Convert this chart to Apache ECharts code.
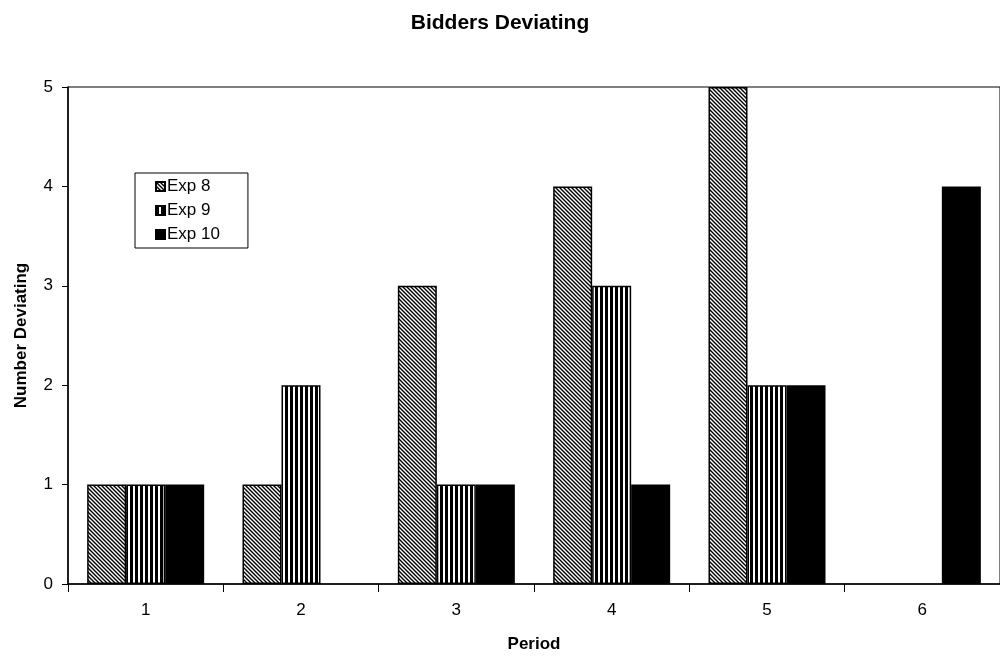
<!DOCTYPE html>
<html>
<head>
<meta charset="utf-8">
<script src="https://cdn.jsdelivr.net/npm/echarts@6/dist/echarts.min.js"></script>
<style>
  html, body { margin: 0; padding: 0; background: #fff; }
  #chart { width: 1000px; height: 658px; }
</style>
</head>
<body>
<div id="chart"></div>
<script>
// data
var periods = ["1", "2", "3", "4", "5", "6"];
var exp8 = [1, 1, 3, 4, 5, 0];
var exp9 = [1, 2, 1, 3, 2, 0];
var exp10 = [1, 0, 1, 1, 2, 4];

// hatch fills for the bars
function diagonalHatch() {
  var c = document.createElement("canvas");
  c.width = 4; c.height = 4;
  var ctx = c.getContext("2d");
  ctx.fillStyle = "#fff";
  ctx.fillRect(0, 0, 4, 4);
  ctx.strokeStyle = "#000";
  ctx.lineWidth = 1.4;
  ctx.beginPath();
  ctx.moveTo(-1, -1); ctx.lineTo(5, 5);
  ctx.moveTo(-1, 3); ctx.lineTo(1, 5);
  ctx.moveTo(3, -1); ctx.lineTo(5, 1);
  ctx.stroke();
  return c;
}
function verticalStripes() {
  var c = document.createElement("canvas");
  c.width = 5; c.height = 2;
  var ctx = c.getContext("2d");
  ctx.fillStyle = "#fff";
  ctx.fillRect(0, 0, 5, 2);
  ctx.fillStyle = "#000";
  ctx.fillRect(0, 0, 3, 2);
  return c;
}

var font = "Arial, 'Liberation Sans', Helvetica, sans-serif";
var chart = echarts.init(document.getElementById("chart"));

// zero counts draw no bar at all in the original
function bar(name, data, fill) {
  return {
    name: name,
    type: "bar",
    data: data.map(function (v) { return v === 0 ? null : v; }),
    barWidth: 39,
    barGap: "0%",
    itemStyle: { color: fill, borderColor: "#000", borderWidth: 1.5 }
  };
}

chart.setOption({
  animation: false,
  backgroundColor: "#fff",
  textStyle: { fontFamily: font },
  title: {
    text: "Bidders Deviating",
    left: "center",
    top: 8,
    textStyle: { fontSize: 21, fontWeight: "bold", color: "#000", fontFamily: font }
  },
  legend: {
    orient: "vertical",
    left: 135,
    top: 173,
    backgroundColor: "#fff",
    borderColor: "#000",
    borderWidth: 1,
    borderRadius: 0,
    padding: [5, 28, 5, 20],
    itemWidth: 9,
    itemHeight: 9,
    itemGap: 7,
    icon: "rect",
    textStyle: { fontSize: 17, color: "#000", fontFamily: font, padding: [0, 0, 0, -3] },
    data: ["Exp 8", "Exp 9", "Exp 10"]
  },
  grid: {
    left: 68,
    right: -2,
    top: 87,
    bottom: 74,
    show: true,
    borderColor: "#000",
    borderWidth: 1
  },
  xAxis: {
    type: "category",
    data: periods,
    name: "Period",
    nameLocation: "middle",
    nameGap: 52,
    nameTextStyle: { fontSize: 17, fontWeight: "bold", color: "#000" },
    axisLine: { lineStyle: { color: "#000", width: 1.5 } },
    axisTick: { show: true, length: 8, lineStyle: { color: "#000" } },
    axisLabel: { fontSize: 17, color: "#000", margin: 18 },
    splitLine: { show: false }
  },
  yAxis: {
    type: "value",
    min: 0,
    max: 5,
    interval: 1,
    name: "Number Deviating",
    nameLocation: "middle",
    nameGap: 38,
    nameTextStyle: { fontSize: 17, fontWeight: "bold", color: "#000" },
    axisLine: { show: true, lineStyle: { color: "#000", width: 1.5 } },
    axisTick: { show: true, length: 6, lineStyle: { color: "#000" } },
    axisLabel: { fontSize: 17, color: "#000", margin: 15 },
    splitLine: { show: false }
  },
  series: [
    bar("Exp 8", exp8, { image: diagonalHatch(), repeat: "repeat" }),
    bar("Exp 9", exp9, { image: verticalStripes(), repeat: "repeat" }),
    bar("Exp 10", exp10, "#000")
  ]
});
</script>
</body>
</html>
